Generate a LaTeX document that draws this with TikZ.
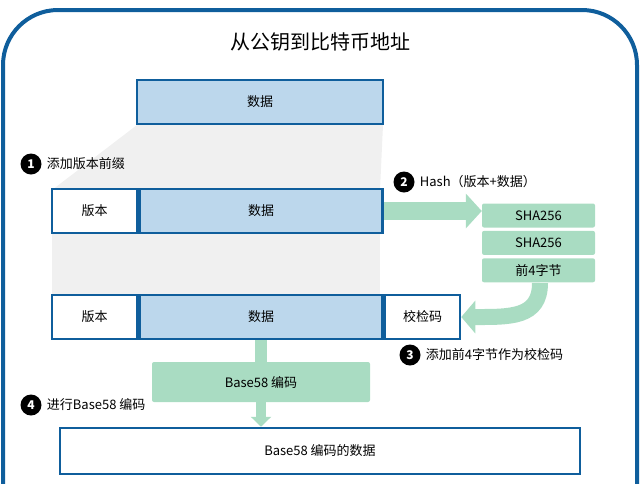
\documentclass[tikz,border=0pt]{standalone}
\usepackage{fontspec}
\setmainfont{Noto Sans CJK SC}
\usetikzlibrary{arrows.meta, positioning, calc}
\definecolor{bbord}{HTML}{0F5E9C}
\definecolor{bfill}{HTML}{BCD7EC}
\definecolor{gfill}{HTML}{A9DCC2}
\tikzset{
	databox/.style = {draw = bbord, line width = 2.5pt, fill = bfill, minimum height = 44pt, inner sep = 0pt, font = \fontsize{13}{13}\selectfont},
	whitebox/.style = {databox, fill = white},
	greenbox/.style = {fill = gfill, minimum width = 113pt, minimum height = 24pt, inner sep = 0pt, rounded corners = 2pt, font = \fontsize{13}{13}\selectfont},
	stepnum/.style = {circle, fill = black, text = white, minimum size = 21pt, inner sep = 0pt, font = \bfseries\fontsize{12}{12}\selectfont},
	steptext/.style = {right, inner sep = 2pt, font = \fontsize{13}{13}\selectfont},
	flow/.style = {gfill, line width = 18pt, -{Triangle[length = 16pt, width = 34pt]}}
}
\begin{document}
\begin{tikzpicture}[x = 1pt, y = -1pt]
		\useasboundingbox (0,0) rectangle (640,483);
		% frame
		\draw[bbord, line width = 4pt, rounded corners = 55pt] (3,500) -- (3,10) -- (637,10) -- (637,500);
		\node (title) at (320,42) {\fontsize{20}{20}\selectfont 从公钥到比特币地址};
		% shading
		\fill[gray!12] (137,125) -- (383,125) -- (380,190) -- (52,190) -- cycle;
		\fill[gray!12] (52,232) -- (380,232) -- (380,295) -- (52,295) -- cycle;
		% top
		\node (d0) [databox, minimum width = 246pt] at (260,102) {数据};
		% row 1
		\node (s1) [stepnum] at (31,164) {1};
		\node (t1) [steptext, right = 3pt of s1] {添加版本前缀};
		\node (v1) [whitebox, minimum width = 85pt] at (94.5,211) {版本};
		\node (d1) [databox, minimum width = 243pt, right = 0pt of v1] {数据};
		% hash
		\node (s2) [stepnum] at (404,182) {2};
		\node (t2) [steptext, right = 3pt of s2] {Hash（版本+数据）};
		\node (h1) [greenbox] at (538.5,215.5) {SHA256};
		\node (h2) [greenbox, below = 3pt of h1] {SHA256};
		\node (h3) [greenbox, below = 3pt of h2] {前4字节};
		\draw[flow] (d1.east) -- (h1.west |- d1.east);
		% row 2
		\node (v2) [whitebox, minimum width = 85pt] at (94.5,317) {版本};
		\node (d2) [databox, minimum width = 243pt, right = 0pt of v2] {数据};
		\node (c2) [whitebox, minimum width = 75pt, right = 0pt of d2] {校检码};
		\draw[gfill, line width = 16pt, -{Triangle[length = 14pt, width = 32pt]}]
			(540,283) .. controls (540,318) and (510,317) .. (c2.east);
		\node (s3) [stepnum] at (410,355) {3};
		\node (t3) [steptext, right = 3pt of s3] {添加前4字节作为校检码};
		% base58
		\node (b58) [greenbox, minimum width = 218pt, minimum height = 40pt] at (261,382) {Base58 编码};
		\fill[gfill] (255,340) rectangle (267,362);
		\node (s4) [stepnum] at (31,405) {4};
		\node (t4) [steptext, right = 3pt of s4] {进行Base58 编码};
		\node (out) [whitebox, minimum width = 520pt, minimum height = 46pt] at (320,451) {Base58 编码的数据\hspace{116pt}};
		\draw[gfill, line width = 10pt, -{Triangle[length = 10pt, width = 20pt]}] (b58.south) -- (b58.south |- out.north);
\end{tikzpicture}
\end{document}
